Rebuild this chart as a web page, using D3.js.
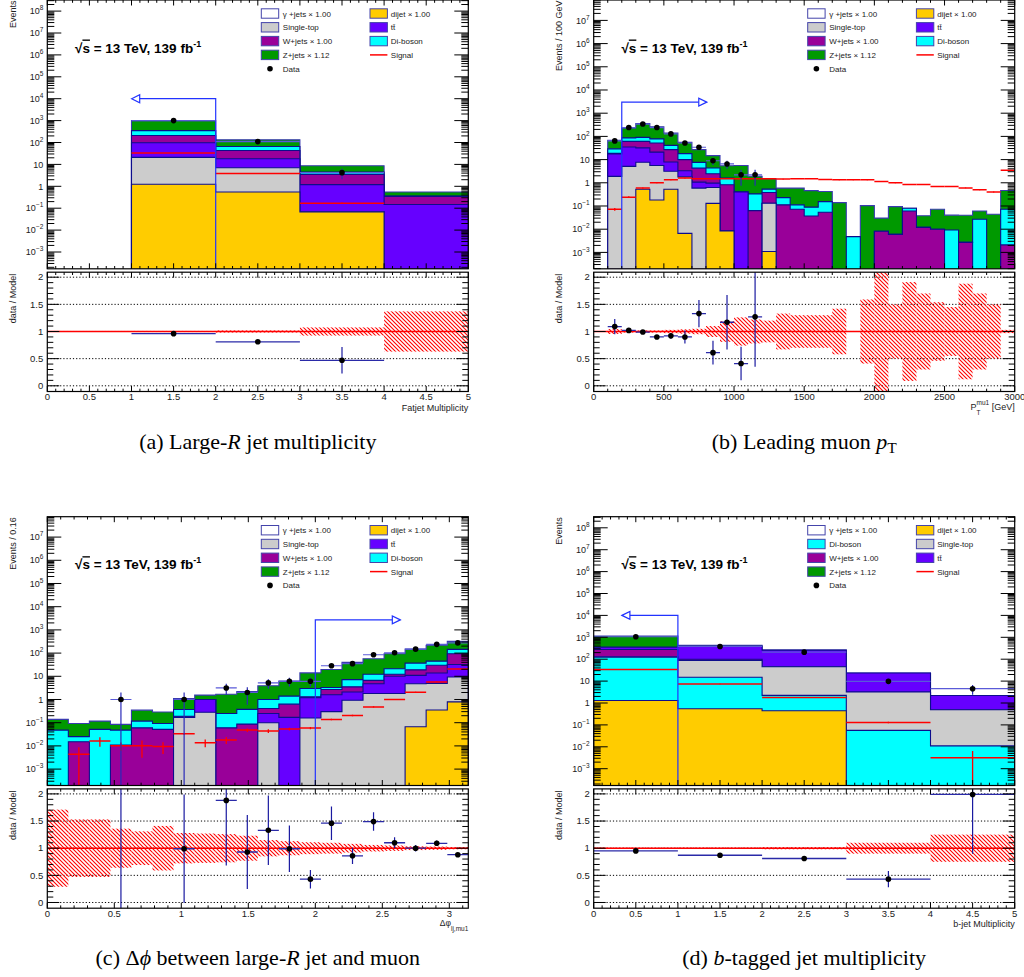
<!DOCTYPE html>
<html>
<head>
<meta charset="utf-8">
<script src="https://cdn.jsdelivr.net/npm/d3@7"></script>
<style>
  body { margin: 0; background: #fff; }
  svg text { font-family: "Liberation Sans", Arial, sans-serif; }
</style>
</head>
<body>
<svg id="fig" width="1024" height="977"></svg>
<script>
// ---------- (a) Large-R jet multiplicity ----------
var aEdges     = [0, 1, 2, 3, 4, 5];
var aDijet     = [0, 1.25, 0.55, 0.068, 0];
var aSingleTop = [0, 19.7, 6.5, 0, 0];
var aTtbar     = [0, 77, 11, 1.13, 0.147];
var aWjets     = [0, 110, 25, 2.3, 0.2];
var aDiboson   = [0, 142, 23, 1.0, 0.01];
var aZjets     = [0, 650, 66, 4.2, 0.19];
var aData      = [null, 1000, 110, 4.2, null];
var aDataErr   = [0, 32, 10.5, 2.1, 0];
var aSignal    = [null, 33, 3.8, 0.17, null];
var aSignalErr = [0, 0.6, 0.2, 0.01, 0];
var aRatio     = [null, 0.96, 0.81, 0.47, null];
var aRatioErr  = [0, 0.01, 0.03, 0.245, 0];
var aBand      = [0, 0.01, 0.02, 0.075, 0.37];

// ---------- (b) leading muon pT ----------
var bEdges = [0,100,200,300,400,500,600,700,800,900,1000,1100,1200,1300,1400,1500,
              1600,1700,1800,1900,2000,2100,2200,2300,2400,2500,2600,2700,2800,2900,3000];
var bDijet     = [0,0,0,0.53,0.18,0.53,0.0066,0,0.13,0.0083,0,0,0.0011,0,0,0,0,0,0,0,0,0,0,0,0,0,0,0,0,0];
var bSingleTop = [0,1.9,5.1,7.1,5.4,2.6,1.8,0.59,0.5,0,0,0,0.13,0,0,0,0,0,0,0,0,0,0,0,0,0,0,0,0,0];
var bTtbar     = [0,15.6,30,24.4,15.4,4.8,1.5,0.48,0.34,0,0.4,0,0,0,0,0,0,0,0,0,0,0,0,0,0,0,0,0,0,0];
var bWjets     = [0,1.0,26,29,31,19,6.7,3.2,1.5,0.81,0,0.063,0.25,0.112,0.072,0.037,0.054,0,0,0,
                  0.0081,0.006,0.061,0.012,0.0099,0,0.0027,0,0,0.0021];
var bDiboson   = [0,10.5,25,30,26,14,8,3.3,1.85,0.78,0,0.27,0.15,0.118,0.04,0.052,0.10,0,0.0048,0,
                  0,0,0.019,0,0,0.0093,0,0.027,0,0.07];
var bZjets     = [0,39,148,269,182,100,37,19.4,10.5,3.8,5.2,1.57,0.97,0.36,0.48,0.37,0.265,0.14,0,0.104,
                  0.022,0.088,0,0.026,0.062,0.031,0.037,0.034,0.044,0.39];
var bData      = [null,64,240,340,240,128,52,34,8.9,6.5,2.2,2.2,null,null,null,null,null,null,null,null,
                  null,null,null,null,null,null,null,null,null,null];
var bDataErr   = [0,8,15.5,18.4,15.5,11.3,7.2,5.8,3,2.5,1.45,1.45,0,0,0,0,0,0,0,0,0,0,0,0,0,0,0,0,0,0];
var bSignal    = [null,0.072,0.24,0.59,1.0,1.35,1.6,1.5,1.5,1.5,1.5,1.5,1.5,1.45,1.49,1.49,1.4,1.35,1.35,1.35,
                  1.14,1.0,0.85,0.85,0.69,0.69,0.6,0.5,0.4,3.5];
var bSignalErr = [0,0.01,0.02,0.03,0.04,0.05,0.05,0.05,0.05,0.05,0.05,0.05,0.05,0.05,0.05,0.05,0.05,0.05,0.05,0.05,
                  0.04,0.04,0.03,0.03,0.03,0.03,0.02,0.02,0.02,0.1];
var bRatio     = [null,1.09,1.02,0.99,0.90,0.92,0.90,1.33,0.61,1.17,0.41,1.27,null,null,null,null,null,null,null,null,
                  null,null,null,null,null,null,null,null,null,null];
var bRatioErr  = [0,0.14,0.03,0.02,0.03,0.05,0.12,0.25,0.22,0.5,0.31,0.92,0,0,0,0,0,0,0,0,0,0,0,0,0,0,0,0,0,0];
var bBand      = [0,0.045,0.02,0.02,0.02,0.03,0.04,0.05,0.1,0.19,0.26,0.22,0.2,0.33,0.3,0.3,0.3,0.42,0,0.59,
                  1.2,0.5,0.91,0.7,0.54,0.45,0.88,0.7,0.5,0.03];

// ---------- (c) delta phi(large-R jet, muon) ----------
var cEdges = [0,0.157,0.314,0.471,0.628,0.785,0.942,1.100,1.257,1.414,1.571,1.728,1.885,2.042,
              2.199,2.356,2.513,2.670,2.827,2.985,3.1416];
var cDijet     = [0,0,0,0,0,0,0,0,0,0,0,0,0,0,0,0,0,0.067,0.35,0.79];
var cSingleTop = [0,0,0,0,0,0,0.169,0.28,0,0,0.1,0,0.16,0.3,0.93,1.8,1.8,4.7,4.6,8.5];
var cTtbar     = [0,0,0,0,0,0,0,0.72,0,0,0.15,0.17,1.04,1.3,1.17,3.0,8.2,6.2,9,23];
var cWjets     = [0,0.0152,0,0.011,0.06,0.0515,0.021,0,0.06,0.087,0.16,0.46,0.1,1.1,1.4,1.9,2.2,8,16,62];
var cDiboson   = [0.048,0.0098,0.0515,0.037,0.057,0.0415,0.18,0,0.19,0.29,0.59,0.77,1.7,0.6,3.7,5.5,8.8,18,15,50];
var cZjets     = [0.091,0.068,0.0655,0.037,0.23,0.197,0.73,0.55,1.44,1.83,2.9,4.8,11,16.2,32.8,44.8,73,111,173,176];
var cData      = [null,null,null,1.0,null,null,1.0,null,3.15,2.0,5.2,6.1,6.1,28.5,35,85,103,148,238,275];
var cDataErr   = [0,0,0,1.0,0,0,1.0,0,1.6,1.4,2.3,2.5,2.5,5.3,5.9,9.2,10,12,15,17];
var cSignal    = [null,0.0044,0.0163,0.0101,0.0101,0.0095,0.033,0.0138,0.018,0.048,0.044,0.053,0.059,
                  0.139,0.205,0.48,1.0,2.06,5.7,20.5];
var cSignalErr = [0,0.0044,0.007,0.004,0.007,0.005,0.003,0.005,0.006,0.008,0.008,0.007,0.007,
                  0.01,0.015,0.03,0.05,0.08,0.2,0.5];
var cRatio     = [null,null,null,11.8,null,null,0.99,null,1.88,0.93,1.33,0.99,0.43,1.46,0.86,1.49,1.1,1.0,1.09,0.88];
var cRatioErr  = [0,0,0,12,0,0,1.0,0,1.2,0.68,0.64,0.43,0.17,0.31,0.15,0.17,0.1,0.06,0.05,0.03];
var cBand      = [0.71,0.53,0.53,0.36,0.31,0.41,0.28,0.27,0.26,0.23,0.15,0.13,0.11,0.1,0.08,0.06,0.05,0.035,0.03,0.02];

// ---------- (d) b-tagged jet multiplicity ----------
var dEdges     = [0, 1, 2, 3, 4, 5];
var dDijet     = [1.3, 0.55, 0.44, 0, 0];
var dDiboson   = [122, 14.5, 1.8, 0.056, 0.011];
var dSingleTop = [7, 72, 43, 3.1, 0.48];
var dWjets     = [147, 13, 1, 0, 0];
var dTtbar     = [78, 300, 214, 20.4, 1.7];
var dZjets     = [785, 37, 2, 0, 0];
var dData      = [1060, 382, 210, 9.8, 4.5];
var dDataErr   = [33, 20, 15, 3.1, 2.1];
var dSignal    = [33.7, 7.4, 1.8, 0.13, 0.0032];
var dSignalErr = [0.5, 0.2, 0.1, 0.01, 0.0032];
var dRatio     = [0.95, 0.87, 0.81, 0.43, 1.99];
var dRatioErr  = [0.02, 0.03, 0.04, 0.15, 1.09];
var dBand      = [0.01, 0.012, 0.02, 0.1, 0.25];

// legend rows (row-wise, two columns)
var legendABC = [["γ +jets × 1.00","gamma"],["dijet × 1.00","dijet"],["Single-top","single"],["tt\u0304","ttbar"],
                 ["W+jets × 1.00","wjets"],["Di-boson","diboson"],["Z+jets × 1.12","zjets"],["Signal","signal"],["Data","data"]];
var legendD   = [["γ +jets × 1.00","gamma"],["dijet × 1.00","dijet"],["Di-boson","diboson"],["Single-top","single"],
                 ["W+jets × 1.00","wjets"],["tt\u0304","ttbar"],["Z+jets × 1.12","zjets"],["Signal","signal"],["Data","data"]];

var colors = { gamma: "#ffffff", dijet: "#ffcc00", single: "#cccccc", ttbar: "#6600ff",
               wjets: "#990099", diboson: "#00ffff", zjets: "#009900" };

var W = 421, H = 268.8, RT = 272.2, RB = 391.5;
var svg = d3.select("#fig");
svg.append("rect").attr("width", 1024).attr("height", 977).attr("fill", "#fff");
var defs = svg.append("defs");
defs.append("pattern").attr("id", "hatch").attr("patternUnits", "userSpaceOnUse")
    .attr("width", 4).attr("height", 4)
  .append("path").attr("d", "M-1,-1L5,5M3,-1L5,1M-1,3L1,5")
    .attr("stroke", "#ff0000").attr("stroke-width", 1.1);

function steps(start, end, step) {
  var n = Math.floor((end - start) / step + 1e-6);
  return d3.range(n + 1).map(function(i) { return +(start + i * step).toFixed(6); });
}
function isMult(v, m) { return Math.abs(v / m - Math.round(v / m)) < 1e-6; }

function drawPanel(p) {
  var left = p.left, top = p.top, nb = p.edges.length - 1;
  var x0 = p.edges[0], x1 = p.edges[nb];
  var x = d3.scaleLinear().domain([x0, x1]).range([left, left + W]);
  var y = d3.scaleLog().domain(p.yDomain).range([top + H, top]);
  var yb = top + H;
  var yv = function(v) { return v > 0 ? Math.min(yb + 3, y(v)) : yb + 3; };
  var g = svg.append("g");

  defs.append("clipPath").attr("id", "clip" + p.id)
    .append("rect").attr("x", left).attr("y", top).attr("width", W).attr("height", H);
  var plot = g.append("g").attr("clip-path", "url(#clip" + p.id + ")");

  // stacked histograms
  var cum = [], run = p.edges.slice(1).map(function() { return 0; });
  p.comps.forEach(function(c) {
    run = run.map(function(r, i) { return r + c.vals[i]; });
    cum.push(run.slice());
  });
  var area = d3.area().curve(d3.curveStepAfter)
    .x(function(d) { return x(d[0]); }).y0(yb + 3).y1(function(d) { return yv(d[1]); });
  for (var k = p.comps.length - 1; k >= 0; k--) {
    var pts = cum[k].map(function(v, i) { return [p.edges[i], v]; });
    pts.push([x1, cum[k][nb - 1]]);
    plot.append("path").attr("d", area(pts))
      .attr("fill", colors[p.comps[k].key])
      .attr("stroke", k === p.comps.length - 1 ? "#3a3ab0" : "#0d0d8c")
      .attr("stroke-width", 1.1);
  }

  // signal
  p.signal.forEach(function(v, i) {
    if (v == null) return;
    var xa = x(p.edges[i]), xb = x(p.edges[i + 1]), xc = (xa + xb) / 2;
    plot.append("line").attr("x1", xa).attr("x2", xb).attr("y1", yv(v)).attr("y2", yv(v))
      .attr("stroke", "#ff0000").attr("stroke-width", 1.5);
    var e = p.signalErr[i];
    plot.append("line").attr("x1", xc).attr("x2", xc)
      .attr("y1", yv(v - e)).attr("y2", yv(v + e))
      .attr("stroke", "#ff0000").attr("stroke-width", 1.3);
  });

  // blue cut arrow
  var ax = x(p.arrow.cut), ay = y(p.arrow.level), tip = ax + p.arrow.dir * p.arrow.len;
  var base = tip - p.arrow.dir * 8;
  plot.append("path")
    .attr("d", "M" + ax + "," + (yb + 2) + "L" + ax + "," + ay + "L" + base + "," + ay)
    .attr("fill", "none").attr("stroke", "#2233ff").attr("stroke-width", 1.2);
  plot.append("path")
    .attr("d", "M" + tip + "," + ay + "L" + base + "," + (ay - 4) + "L" + base + "," + (ay + 4) + "Z")
    .attr("fill", "#fff").attr("stroke", "#2233ff").attr("stroke-width", 1.2);

  // data
  p.data.forEach(function(v, i) {
    if (v == null) return;
    var xa = x(p.edges[i]), xb = x(p.edges[i + 1]), xc = (xa + xb) / 2, e = p.dataErr[i];
    plot.append("line").attr("x1", xa).attr("x2", xb).attr("y1", y(v)).attr("y2", y(v))
      .attr("stroke", "#5a5ad8").attr("stroke-width", 1.2);
    plot.append("line").attr("x1", xc).attr("x2", xc).attr("y1", yv(v - e)).attr("y2", yv(v + e))
      .attr("stroke", "#2a2ab8").attr("stroke-width", 1.2);
    plot.append("circle").attr("cx", xc).attr("cy", y(v)).attr("r", 2.8).attr("fill", "#000");
  });

  // frame + ticks (upper)
  g.append("rect").attr("x", left).attr("y", top).attr("width", W).attr("height", H)
    .attr("fill", "none").attr("stroke", "#000").attr("stroke-width", 1.2);
  var tk = g.append("g").attr("stroke", "#000").attr("stroke-width", 1);
  var lo = Math.floor(Math.log10(p.yDomain[0])), hi = Math.ceil(Math.log10(p.yDomain[1]));
  for (var n = lo; n <= hi; n++) {
    for (var m = 1; m <= 9; m++) {
      var v = m * Math.pow(10, n);
      if (v < p.yDomain[0] || v > p.yDomain[1]) continue;
      var len = m === 1 ? 14 : 7, yy = y(v);
      tk.append("line").attr("x1", left).attr("x2", left + len).attr("y1", yy).attr("y2", yy);
      tk.append("line").attr("x1", left + W).attr("x2", left + W - len).attr("y1", yy).attr("y2", yy);
      if (m === 1) {
        var t = g.append("text").attr("x", left - 4).attr("y", yy + 3.2)
          .attr("text-anchor", "end").attr("font-size", 9).attr("fill", "#1a1a1a");
        if (n === 0) t.text("1");
        else if (n === 1) t.text("10");
        else {
          t.append("tspan").text("10");
          t.append("tspan").attr("dy", -4).attr("font-size", 6.5).text(n < 0 ? "\u2212" + (-n) : String(n));
        }
      }
    }
  }
  function xTicks(gg, yTop, yBot) {
    steps(x0, x1, p.xMinor).forEach(function(v) {
      var len = isMult(v, p.xMajor) ? 5.5 : 2.8, xx = x(v);
      gg.append("line").attr("x1", xx).attr("x2", xx).attr("y1", yBot).attr("y2", yBot - len);
      gg.append("line").attr("x1", xx).attr("x2", xx).attr("y1", yTop).attr("y2", yTop + len);
    });
  }
  xTicks(tk, top, yb);

  // sqrt(s) label
  var lt = g.append("text").attr("x", left + 27.7).attr("y", top + 52.5)
    .attr("font-size", 13.5).attr("font-weight", "bold").attr("fill", "#000");
  lt.append("tspan").text("\u221A");
  lt.append("tspan").attr("text-decoration", "overline").text("s");
  lt.append("tspan").text(" = 13 TeV, 139 fb");
  lt.append("tspan").attr("dy", -6).attr("font-size", 9).text("-1");

  // legend
  p.legend.forEach(function(e, i) {
    var col = i % 2, row = Math.floor(i / 2);
    var bx = left + (col ? 322.7 : 214), cy = top + 13.5 + 13.8 * row;
    var tx = left + (col ? 343.5 : 235.5);
    if (e[1] === "signal") {
      g.append("line").attr("x1", bx).attr("x2", bx + 17.4).attr("y1", cy).attr("y2", cy)
        .attr("stroke", "#ff0000").attr("stroke-width", 1.5);
    } else if (e[1] === "data") {
      g.append("circle").attr("cx", bx + 8.7).attr("cy", cy).attr("r", 2.8).attr("fill", "#000");
    } else {
      g.append("rect").attr("x", bx).attr("y", cy - 4.7).attr("width", 17.4).attr("height", 9.4)
        .attr("fill", colors[e[1]]).attr("stroke", "#4444aa").attr("stroke-width", 1);
    }
    g.append("text").attr("x", tx).attr("y", cy + 3).attr("font-size", 8).attr("fill", "#222").text(e[0]);
  });

  // y title
  g.append("text").attr("transform", "translate(" + (left - 31.5) + "," + (top + 0.5) + ") rotate(-90)")
    .attr("text-anchor", "end").attr("font-size", 9).attr("fill", "#222").text(p.yTitle);

  // ---------- ratio panel ----------
  var rTop = top + RT, rBot = top + RB;
  var yr = d3.scaleLinear().domain([-0.105, 2.092]).range([rBot, rTop]);
  defs.append("clipPath").attr("id", "rclip" + p.id)
    .append("rect").attr("x", left).attr("y", rTop).attr("width", W).attr("height", rBot - rTop);
  var rg = g.append("g").attr("clip-path", "url(#rclip" + p.id + ")");
  [0, 0.5, 1, 1.5, 2].forEach(function(v) {
    rg.append("line").attr("x1", left).attr("x2", left + W).attr("y1", yr(v)).attr("y2", yr(v))
      .attr("stroke", "#000").attr("stroke-width", 1).attr("stroke-dasharray", "1.2,2");
  });
  p.band.forEach(function(b, i) {
    if (!b) return;
    rg.append("rect").attr("x", x(p.edges[i])).attr("width", x(p.edges[i + 1]) - x(p.edges[i]))
      .attr("y", yr(1 + b)).attr("height", yr(1 - b) - yr(1 + b)).attr("fill", "url(#hatch)");
  });
  rg.append("line").attr("x1", left).attr("x2", left + W).attr("y1", yr(1)).attr("y2", yr(1))
    .attr("stroke", "#ff0000").attr("stroke-width", 1.6);
  p.ratio.forEach(function(v, i) {
    if (v == null) return;
    var xa = x(p.edges[i]), xb = x(p.edges[i + 1]), xc = (xa + xb) / 2, e = p.ratioErr[i];
    rg.append("line").attr("x1", xa).attr("x2", xb).attr("y1", yr(v)).attr("y2", yr(v))
      .attr("stroke", "#2a2aa8").attr("stroke-width", 1.3);
    rg.append("line").attr("x1", xc).attr("x2", xc).attr("y1", yr(v - e)).attr("y2", yr(v + e))
      .attr("stroke", "#1a1aa0").attr("stroke-width", 1.2);
    rg.append("circle").attr("cx", xc).attr("cy", yr(v)).attr("r", 2.8).attr("fill", "#000");
  });
  g.append("rect").attr("x", left).attr("y", rTop).attr("width", W).attr("height", rBot - rTop)
    .attr("fill", "none").attr("stroke", "#000").attr("stroke-width", 1.2);
  var rk = g.append("g").attr("stroke", "#000").attr("stroke-width", 1);
  steps(0, 2, 0.1).forEach(function(v) {
    var len = isMult(v, 0.5) ? 12 : 6;
    rk.append("line").attr("x1", left).attr("x2", left + len).attr("y1", yr(v)).attr("y2", yr(v));
    rk.append("line").attr("x1", left + W).attr("x2", left + W - len).attr("y1", yr(v)).attr("y2", yr(v));
  });
  ["0", "0.5", "1", "1.5", "2"].forEach(function(s) {
    g.append("text").attr("x", left - 4).attr("y", yr(+s) + 3.3).attr("text-anchor", "end")
      .attr("font-size", 9.5).attr("fill", "#1a1a1a").text(s);
  });
  xTicks(rk, rTop, rBot);
  p.xLabels.forEach(function(v) {
    g.append("text").attr("x", x(v)).attr("y", top + 400).attr("text-anchor", "middle")
      .attr("font-size", 9.5).attr("fill", "#1a1a1a").text(String(v));
  });
  g.append("text").attr("transform", "translate(" + (left - 31.5) + "," + (rTop + 1.5) + ") rotate(-90)")
    .attr("text-anchor", "end").attr("font-size", 9).attr("fill", "#222").text("data / Model");
  p.xTitle(g, left + W, top);

  // caption
  var cap = g.append("text").attr("x", left + W / 2).attr("y", top + 448.5).attr("text-anchor", "middle")
    .attr("font-size", 22).attr("fill", "#000").style("font-family", "'Liberation Serif', 'Times New Roman', serif");
  p.caption.forEach(function(c) {
    var ts = cap.append("tspan").text(c[0]);
    if (c[1] === "i") ts.attr("font-style", "italic");
    if (c[1] === "sub") ts.attr("dy", 4.5).attr("font-size", 15.5);
  });
}

function plainTitle(txt) {
  return function(g, right, top) {
    g.append("text").attr("x", right).attr("y", top + 410.5).attr("text-anchor", "end")
      .attr("font-size", 9).attr("fill", "#222").text(txt);
  };
}
function ptTitle(g, right, top) {
  var t = g.append("text").attr("x", 0).attr("y", top + 410).attr("font-size", 9).attr("fill", "#222");
  var tp = t.append("tspan").text("P");
  t.append("tspan").attr("dy", -5).attr("font-size", 6.5).text("mu1");
  t.append("tspan").attr("dy", 5).text(" [GeV]");
  var full = t.node().getComputedTextLength(), pw = tp.node().getComputedTextLength();
  t.attr("x", right - full);
  g.append("text").attr("x", right - full + pw).attr("y", top + 414.5).attr("font-size", 6.5)
    .attr("fill", "#222").text("T");
}
function dphiTitle(g, right, top) {
  var t = g.append("text").attr("x", right).attr("y", top + 409.5).attr("text-anchor", "end")
    .attr("font-size", 8.5).attr("fill", "#222");
  t.append("tspan").text("\u0394\u03C6");
  t.append("tspan").attr("dy", 5).attr("font-size", 6.5).text("lj,mu1");
}

var stackABC = ["dijet", "single", "ttbar", "wjets", "diboson", "zjets"];
var domAD = [Math.pow(10, -3.767), Math.pow(10, 8.507)];
var domBC = [Math.pow(10, -3.707), Math.pow(10, 7.879)];

drawPanel({ id: "a", left: 47.3, top: 0, edges: aEdges, yDomain: domAD,
  comps: [aDijet, aSingleTop, aTtbar, aWjets, aDiboson, aZjets].map(function(v, i) { return { key: stackABC[i], vals: v }; }),
  data: aData, dataErr: aDataErr, signal: aSignal, signalErr: aSignalErr,
  ratio: aRatio, ratioErr: aRatioErr, band: aBand, arrow: { cut: 2, dir: -1, level: 1e4, len: 84 },
  xMajor: 0.5, xMinor: 0.1, xLabels: [0, 0.5, 1, 1.5, 2, 2.5, 3, 3.5, 4, 4.5, 5],
  legend: legendABC, yTitle: "Events", xTitle: plainTitle("Fatjet Multiplicity"),
  caption: [["(a) Large-"], ["R", "i"], [" jet multiplicity"]] });

drawPanel({ id: "b", left: 593.7, top: 0, edges: bEdges, yDomain: domBC,
  comps: [bDijet, bSingleTop, bTtbar, bWjets, bDiboson, bZjets].map(function(v, i) { return { key: stackABC[i], vals: v }; }),
  data: bData, dataErr: bDataErr, signal: bSignal, signalErr: bSignalErr,
  ratio: bRatio, ratioErr: bRatioErr, band: bBand, arrow: { cut: 200, dir: 1, level: 3000, len: 85 },
  xMajor: 500, xMinor: 100, xLabels: [0, 500, 1000, 1500, 2000, 2500, 3000],
  legend: legendABC, yTitle: "Events / 100 GeV", xTitle: ptTitle,
  caption: [["(b) Leading muon "], ["p", "i"], ["T", "sub"]] });

drawPanel({ id: "c", left: 47.3, top: 516.7, edges: cEdges, yDomain: domBC,
  comps: [cDijet, cSingleTop, cTtbar, cWjets, cDiboson, cZjets].map(function(v, i) { return { key: stackABC[i], vals: v }; }),
  data: cData, dataErr: cDataErr, signal: cSignal, signalErr: cSignalErr,
  ratio: cRatio, ratioErr: cRatioErr, band: cBand, arrow: { cut: 2.0, dir: 1, level: 2700, len: 85 },
  xMajor: 0.5, xMinor: 0.1, xLabels: [0, 0.5, 1, 1.5, 2, 2.5, 3],
  legend: legendABC, yTitle: "Events / 0.16", xTitle: dphiTitle,
  caption: [["(c) \u0394"], ["\u03D5", "i"], [" between large-"], ["R", "i"], [" jet and muon"]] });

var stackD = ["dijet", "diboson", "single", "wjets", "ttbar", "zjets"];
drawPanel({ id: "d", left: 593.7, top: 516.7, edges: dEdges, yDomain: domAD,
  comps: [dDijet, dDiboson, dSingleTop, dWjets, dTtbar, dZjets].map(function(v, i) { return { key: stackD[i], vals: v }; }),
  data: dData, dataErr: dDataErr, signal: dSignal, signalErr: dSignalErr,
  ratio: dRatio, ratioErr: dRatioErr, band: dBand, arrow: { cut: 1, dir: -1, level: 1e4, len: 56 },
  xMajor: 0.5, xMinor: 0.1, xLabels: [0, 0.5, 1, 1.5, 2, 2.5, 3, 3.5, 4, 4.5, 5],
  legend: legendD, yTitle: "Events", xTitle: plainTitle("b-jet Multiplicity"),
  caption: [["(d) "], ["b", "i"], ["-tagged jet multiplicity"]] });
</script>
</body>
</html>
